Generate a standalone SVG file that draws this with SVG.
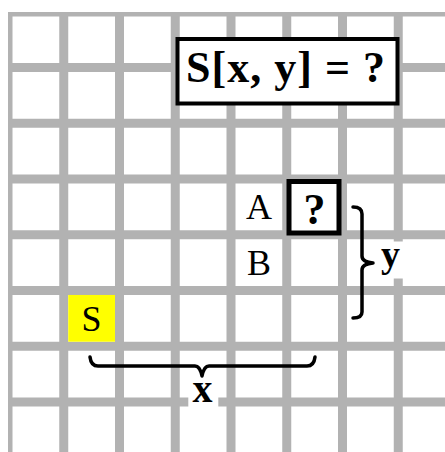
<svg xmlns="http://www.w3.org/2000/svg" width="445" height="452" viewBox="0 0 445 452">
<style>
.grid line{stroke:#b2b2b2;stroke-width:9}
.bold{font-family:"Liberation Serif",serif;font-weight:bold;fill:#000}
.reg{font-family:"Liberation Serif",serif;font-size:36px;fill:#000;text-anchor:middle}
.brace{fill:none;stroke:#000;stroke-width:3.5;stroke-linecap:round;stroke-linejoin:round}
.box{fill:#fff;stroke:#000}
</style>
<rect width="445" height="452" fill="#fff"/>
<g id="grid" class="grid">
<line x1="10.25" y1="12" x2="10.25" y2="452" style="stroke-width:4.5"/>
<line x1="63.75" y1="12" x2="63.75" y2="452"/>
<line x1="119.5" y1="12" x2="119.5" y2="452"/>
<line x1="175.25" y1="12" x2="175.25" y2="452"/>
<line x1="231" y1="12" x2="231" y2="452"/>
<line x1="286.75" y1="12" x2="286.75" y2="452"/>
<line x1="342.5" y1="12" x2="342.5" y2="452"/>
<line x1="398.25" y1="12" x2="398.25" y2="452"/>
<line x1="8" y1="14.2" x2="445" y2="14.2" style="stroke-width:4.5"/>
<line x1="8" y1="67.45" x2="445" y2="67.45"/>
<line x1="8" y1="123.2" x2="445" y2="123.2"/>
<line x1="8" y1="178.95" x2="445" y2="178.95"/>
<line x1="8" y1="234.7" x2="445" y2="234.7"/>
<line x1="8" y1="290.45" x2="445" y2="290.45"/>
<line x1="8" y1="346.2" x2="445" y2="346.2"/>
<line x1="8" y1="401.95" x2="445" y2="401.95"/>
</g>
<g id="formula">
<rect class="box" x="177.5" y="39" width="220" height="64.5" stroke-width="4"/>
<text class="bold" x="186" y="82" font-size="44" textLength="199" lengthAdjust="spacing">S[x, y] = ?</text>
</g>
<g id="cell-S">
<rect x="68.25" y="294.95" width="46.75" height="46.75" fill="#ffff00"/>
<text class="reg" x="91.6" y="331">S</text>
</g>
<g id="cell-A">
<text class="reg" x="259" y="218.7">A</text>
</g>
<g id="cell-B">
<text class="reg" x="259" y="275.2">B</text>
</g>
<g id="cell-unknown">
<rect class="box" x="289" y="181.5" width="50" height="51.5" stroke-width="5"/>
<text class="bold" x="314.5" y="223.5" font-size="44" text-anchor="middle">?</text>
</g>
<g id="connectors">
<g id="brace-x">
<path class="brace" d="M90,357 Q91,366 98,366 L195,366 Q200,366 202,376 Q204,366 209,366 L307,366 Q314,366 315,357"/>
<rect x="188.3" y="380" width="30" height="30" fill="#fff"/>
<text class="bold" x="202.5" y="401.5" font-size="40" text-anchor="middle">x</text>
</g>
<g id="brace-y">
<path class="brace" d="M353,207 Q362,207 362,214 L362,256 Q362,262 373,263 Q362,264 362,270 L362,312 Q362,318 353,318"/>
<rect x="377" y="241.5" width="27" height="37" fill="#fff"/>
<text class="bold" x="390.5" y="266.5" font-size="38" text-anchor="middle">y</text>
</g>
</g>
</svg>
